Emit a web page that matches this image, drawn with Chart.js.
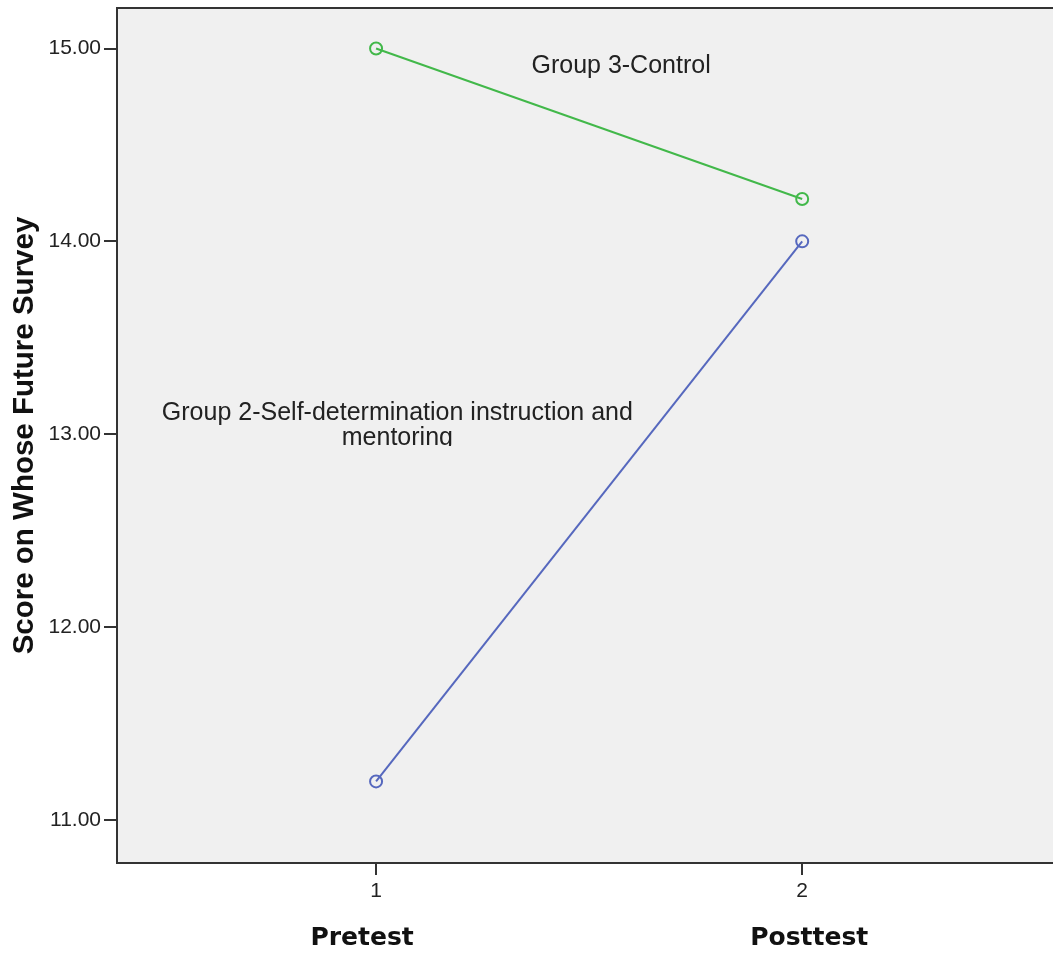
<!DOCTYPE html>
<html>
<head>
<meta charset="utf-8">
<script src="https://cdn.jsdelivr.net/npm/chart.js@4.4.1/dist/chart.umd.min.js"></script>
<style>
  html, body { margin: 0; padding: 0; background: #fff; overflow: hidden; }
  /* plot area runs past the right edge of the window, as in the original */
  #wrap { width: 1065px; height: 953px; position: relative; }
</style>
</head>
<body>
<div id="wrap"><canvas id="chart"></canvas></div>
<script>
// data
const timePoints = [1, 2];
const phaseLabels = ['Pretest', 'Posttest'];
const yTicks = [11, 12, 13, 14, 15];
const group2Scores = [11.20, 14.00];
const group3Scores = [15.00, 14.22];
const group2Name = ['Group 2-Self-determination instruction and', 'mentoring'];
const group3Name = ['Group 3-Control'];

const blue = 'rgb(86,104,190)';
const green = 'rgb(66,184,74)';
const frameColor = '#333333';
const tickFont = { family: 'Liberation Sans, Arial, sans-serif', size: 21 };

// plot background, frame, phase names and in-plot group labels
const decorations = {
    id: 'decorations',
    beforeDraw(chart) {
        const { ctx, chartArea: a } = chart;
        ctx.save();
        ctx.fillStyle = '#f0f0f0';
        ctx.fillRect(a.left, a.top, a.right - a.left, a.bottom - a.top);
        ctx.restore();
    },
    afterDatasetsDraw(chart) {
        const { ctx, chartArea: a, scales: { x, y } } = chart;
        ctx.save();
        ctx.font = '25px "Liberation Sans", Arial, sans-serif';
        ctx.fillStyle = '#222';
        ctx.textAlign = 'center';
        ctx.textBaseline = 'middle';
        // Group 3 label
        ctx.fillText(group3Name[0], x.getPixelForValue(1.575), y.getPixelForValue(14.91));
        // Group 2 label, second line cut off as in the original
        const gx = x.getPixelForValue(1.05);
        const gy1 = y.getPixelForValue(13.11);
        const gy2 = y.getPixelForValue(12.98);
        ctx.fillText(group2Name[0], gx, gy1);
        ctx.beginPath();
        ctx.rect(a.left, a.top, a.right - a.left, gy2 + 8 - a.top);
        ctx.clip();
        ctx.fillText(group2Name[1], gx, gy2);
        ctx.restore();

        ctx.save();
        ctx.strokeStyle = frameColor;
        ctx.lineWidth = 2;
        ctx.strokeRect(a.left, a.top, a.right - a.left, a.bottom - a.top);
        ctx.restore();
    },
    afterDraw(chart) {
        const { ctx, scales: { x } } = chart;
        ctx.save();
        ctx.font = 'bold 25px "DejaVu Sans", Verdana, sans-serif';
        ctx.fillStyle = '#111';
        ctx.textAlign = 'center';
        ctx.textBaseline = 'middle';
        const offsets = [-14, 7];
        phaseLabels.forEach((p, i) => {
            ctx.fillText(p, x.getPixelForValue(timePoints[i]) + offsets[i], 938);
        });
        ctx.restore();
    }
};

const ctx = document.getElementById('chart').getContext('2d');
new Chart(ctx, {
    type: 'scatter',
    data: {
        datasets: [{
            label: group2Name.join(' '),
            data: timePoints.map((t, i) => ({ x: t, y: group2Scores[i] })),
            showLine: true,
            borderColor: blue,
            borderWidth: 2,
            pointStyle: 'circle',
            pointRadius: 6,
            pointBorderWidth: 2,
            pointBorderColor: blue,
            pointBackgroundColor: 'rgba(0,0,0,0)'
        }, {
            label: group3Name[0],
            data: timePoints.map((t, i) => ({ x: t, y: group3Scores[i] })),
            showLine: true,
            borderColor: green,
            borderWidth: 2,
            pointStyle: 'circle',
            pointRadius: 6,
            pointBorderWidth: 2,
            pointBorderColor: green,
            pointBackgroundColor: 'rgba(0,0,0,0)'
        }]
    },
    options: {
        responsive: true,
        maintainAspectRatio: false,
        animation: false,
        layout: { padding: 0 },
        plugins: {
            legend: { display: false },
            tooltip: { enabled: false }
        },
        scales: {
            x: {
                type: 'linear',
                min: 0.392,
                max: 2.598,
                afterBuildTicks: s => { s.ticks = timePoints.map(v => ({ value: v })); },
                afterFit: s => { s.height = 90; s.paddingLeft = 0; s.paddingRight = 0; },
                grid: { drawOnChartArea: false, drawTicks: true, tickLength: 12, color: frameColor, lineWidth: 2 },
                border: { display: false },
                ticks: { font: tickFont, color: '#222', padding: 4, maxRotation: 0, callback: v => String(v) }
            },
            y: {
                min: 10.777,
                max: 15.21,
                afterBuildTicks: s => { s.ticks = yTicks.map(v => ({ value: v })); },
                afterFit: s => { s.width = 117; s.paddingTop = 0; s.paddingBottom = 0; },
                grid: { drawOnChartArea: false, drawTicks: true, tickLength: 13, color: frameColor, lineWidth: 2 },
                border: { display: false },
                ticks: { font: tickFont, color: '#222', padding: 3, callback: v => Number(v).toFixed(2) },
                title: {
                    display: true,
                    text: 'Score on Whose Future Survey',
                    font: { family: 'Liberation Sans, Arial, sans-serif', size: 29.5, weight: 'bold' },
                    color: '#111',
                    padding: { top: 7, bottom: 0 }
                }
            }
        }
    },
    plugins: [decorations]
});
</script>
</body>
</html>
